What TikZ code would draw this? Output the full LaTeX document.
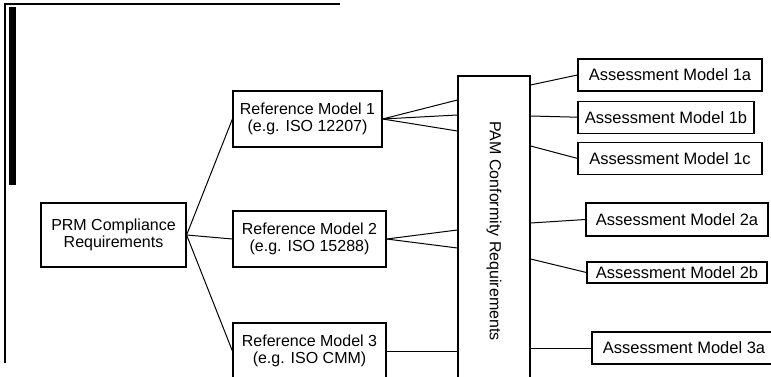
\documentclass[tikz,border=0pt]{standalone}
\usepackage{fontspec}
\setmainfont{Liberation Sans}
\usetikzlibrary{positioning}

\begin{document}
\begin{tikzpicture}[
  x=1pt, y=-1pt,
  modelbox/.style={rectangle, draw=black, line width=1.2pt, inner sep=0pt, align=center, font=\fontsize{16}{17.5}\selectfont},
  amodel/.style={modelbox, minimum height=32pt, font=\fontsize{16.5}{18}\selectfont},
  link/.style={line width=1pt}
]
\useasboundingbox (0,0) rectangle (771,377);
\clip (0,0) rectangle (771,377);

% page edge of the scan
\draw[line width=1.2pt] (340,4) -- (5,4) -- (5,363);
\fill (9,7) rectangle (16,185);

\node[modelbox, minimum width=145pt, minimum height=64pt] (prm) at (113.5,235) {PRM Compliance\\Requirements};
\node[modelbox, minimum width=149pt, minimum height=56pt] (rm1) at (307.5,119) {Reference Model 1\\(e.g. ISO 12207)};
\node[modelbox, minimum width=153pt, minimum height=56pt] (rm2) at (309.5,239) {Reference Model 2\\(e.g. ISO 15288)};
\node[modelbox, minimum width=153pt, minimum height=56pt] (rm3) at (309.5,351) {Reference Model 3\\(e.g. ISO CMM)};
% rotated: pam.south is its left side, pam.north its right side
\node[modelbox, minimum width=310pt, minimum height=72pt, rotate=-90] (pam) at (494,231) {PAM Conformity Requirements};

\node[amodel, minimum width=184pt] (am1a) at (670,75) {Assessment Model 1a};
\node[amodel, minimum width=176pt, below=9pt of am1a.south west, anchor=north west] (am1b) {Assessment Model 1b};
\node[amodel, minimum width=184pt, below=8pt of am1b.south west, anchor=north west] (am1c) {Assessment Model 1c};
\node[amodel, minimum width=182pt, minimum height=33pt] (am2a) at (677,219.5) {Assessment Model 2a};
\node[amodel, minimum width=180pt, minimum height=21pt] (am2b) at (677,272.5) {Assessment Model 2b};
\node[amodel, minimum width=184pt] (am3a) at (684,348) {Assessment Model 3a};

\foreach \rm in {rm1,rm2,rm3}
  \draw[link] (prm.east) -- (\rm.west);
\foreach \y in {100,115,131}
  \draw[link] (rm1.east) -- (pam.south |- 0,\y);
\foreach \y in {230,248}
  \draw[link] (rm2.east) -- (pam.south |- 0,\y);
\draw[link] (rm3.east) -- (rm3.east -| pam.south);

\foreach \am/\y in {am1a/85,am1b/116,am1c/146,am2a/223,am2b/259,am3a/348}
  \draw[link] (pam.north |- 0,\y) -- (\am.west);
\end{tikzpicture}
\end{document}
